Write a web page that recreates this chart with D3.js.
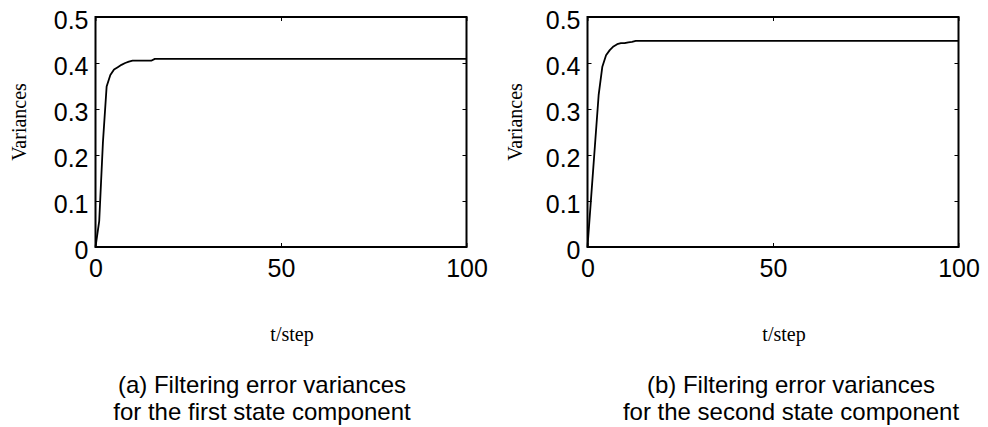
<!DOCTYPE html>
<html>
<head>
<meta charset="utf-8">
<script src="https://cdn.jsdelivr.net/npm/d3@7"></script>
<style>
  body { margin: 0; background: #fff; }
  svg { display: block; }
  .tick text { font-family: "Liberation Sans", Arial, sans-serif; font-size: 25px; fill: #000; }
  .domain { display: none; }
  .tick line { stroke: #000; stroke-width: 1; }
</style>
</head>
<body>
<div id="chart"></div>
<script>
// time steps for each series
var stepsA = [0, 1, 2, 3, 4, 5, 6, 7, 8, 9, 10, 15, 16, 100];
var stepsB = [0, 1, 2, 3, 4, 5, 6, 7, 8, 9, 10, 11, 12, 13, 100];

// filtering error variances
var varA = [0, 0.056, 0.227, 0.349, 0.374, 0.386, 0.391, 0.396, 0.400, 0.403, 0.405, 0.405, 0.409, 0.409];
var varB = [0, 0.11, 0.22, 0.33, 0.392, 0.417, 0.428, 0.436, 0.441, 0.443, 0.443, 0.445, 0.446, 0.448, 0.448];

var xTicks = [0, 50, 100];
var yTicks = [0, 0.1, 0.2, 0.3, 0.4, 0.5];

var captionsA = ["(a) Filtering error variances", "for the first state component"];
var captionsB = ["(b) Filtering error variances", "for the second state component"];

var W = 988, H = 427;
var svg = d3.select("#chart").append("svg")
    .attr("width", W)
    .attr("height", H);

var panels = [
    { left: 95.5, steps: stepsA, vals: varA, caps: captionsA, ylabOff: 77, capOff: -19 },
    { left: 587.5, steps: stepsB, vals: varB, caps: captionsB, ylabOff: 73, capOff: 18 }
];

var plotW = 371, plotTop = 17, plotBottom = 247;

panels.forEach(function(p) {
    var x = d3.scaleLinear().domain([0, 100]).range([p.left, p.left + plotW]);
    var y = d3.scaleLinear().domain([0, 0.5]).range([plotBottom, plotTop]);

    // ticks pointing inward, labels only on left/bottom
    svg.append("g")
        .attr("transform", "translate(" + x(0) + ",0)")
        .call(d3.axisLeft(y).tickValues(yTicks).tickSizeInner(-4).tickSizeOuter(0).tickPadding(7)
            .tickFormat(d => d === 0 ? "0" : d3.format(".1f")(d)))
        .selectAll("text").attr("dy", "0.45em");

    svg.append("g")
        .attr("transform", "translate(" + x(100) + ",0)")
        .call(d3.axisRight(y).tickValues(yTicks).tickSizeInner(-4).tickSizeOuter(0).tickFormat(""));

    svg.append("g")
        .attr("transform", "translate(0," + plotBottom + ")")
        .call(d3.axisBottom(x).tickValues(xTicks).tickSizeInner(-4).tickSizeOuter(0).tickPadding(12));

    svg.append("g")
        .attr("transform", "translate(0," + plotTop + ")")
        .call(d3.axisTop(x).tickValues(xTicks).tickSizeInner(-4).tickSizeOuter(0).tickFormat(""));

    // box
    svg.append("rect")
        .attr("x", x(0)).attr("y", y(0.5))
        .attr("width", x(100) - x(0)).attr("height", y(0) - y(0.5))
        .attr("fill", "none").attr("stroke", "#000").attr("stroke-width", 2);

    var line = d3.line()
        .x((d, i) => x(p.steps[i]))
        .y(d => y(d));

    svg.append("path")
        .datum(p.vals)
        .attr("d", line)
        .attr("fill", "none")
        .attr("stroke", "#000")
        .attr("stroke-width", 1.8)
        .attr("stroke-linejoin", "round");

    svg.append("text")
        .attr("transform", "translate(" + (x(0) - p.ylabOff) + ",122) rotate(-90)")
        .attr("text-anchor", "middle")
        .attr("dy", "0.35em")
        .style("font-family", "'Liberation Serif', 'Times New Roman', serif")
        .style("font-size", "20px")
        .text("Variances");

    var cx = (x(0) + x(100)) / 2;
    svg.append("text")
        .attr("x", cx + 11).attr("y", 341)
        .attr("text-anchor", "middle")
        .style("font-family", "'Liberation Serif', 'Times New Roman', serif")
        .style("font-size", "20px")
        .text("t/step");

    p.caps.forEach(function(c, i) {
        svg.append("text")
            .attr("x", cx + p.capOff).attr("y", 393 + i * 27)
            .attr("text-anchor", "middle")
            .style("font-family", "'Liberation Sans', Arial, sans-serif")
            .style("font-size", "24px")
            .text(c);
    });
});
</script>
</body>
</html>
